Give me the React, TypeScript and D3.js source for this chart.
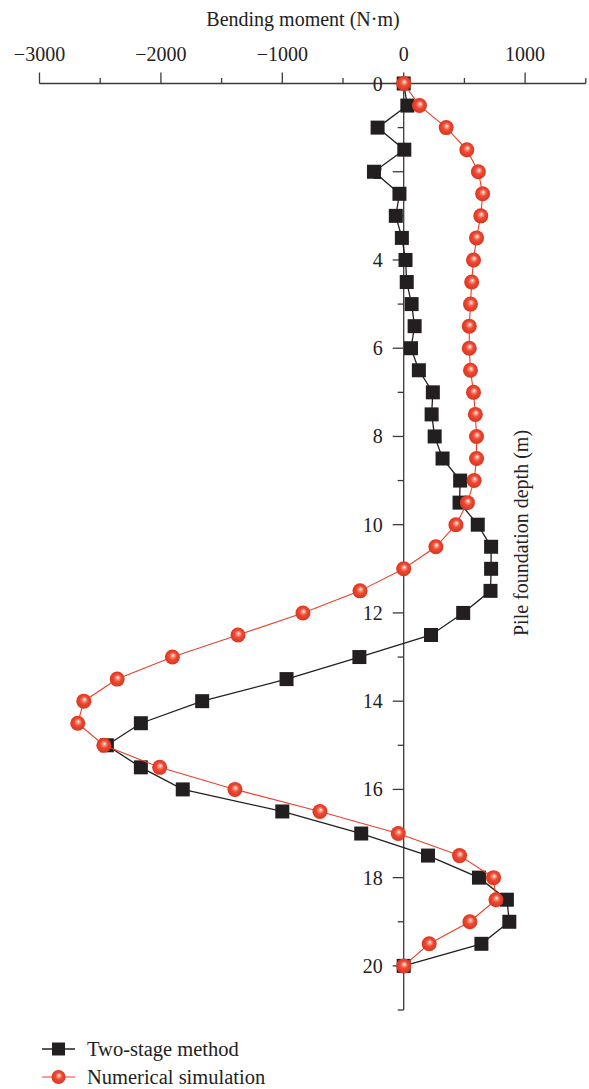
import React from "react";
import * as d3 from "d3";

const depths = [0, 0.5, 1, 1.5, 2, 2.5, 3, 3.5, 4, 4.5, 5, 5.5, 6, 6.5, 7, 7.5, 8, 8.5, 9, 9.5, 10, 10.5, 11, 11.5, 12, 12.5, 13, 13.5, 14, 14.5, 15, 15.5, 16, 16.5, 17, 17.5, 18, 18.5, 19, 19.5, 20];
const twoStage = [0, 30, -215, 5, -245, -35, -65, -15, 15, 25, 65, 90, 60, 125, 240, 230, 255, 320, 465, 460, 610, 720, 720, 715, 490, 225, -365, -965, -1660, -2165, -2445, -2165, -1820, -1000, -350, 200, 620, 850, 870, 640, 0];
const numerical = [0, 130, 350, 520, 615, 650, 635, 600, 575, 560, 550, 540, 540, 550, 575, 590, 600, 600, 580, 525, 430, 265, 0, -360, -830, -1365, -1905, -2360, -2635, -2685, -2470, -2010, -1390, -690, -45, 460, 740, 760, 545, 210, 0];

const xMajorTicks = [-3000, -2000, -1000, 0, 1000];
const xMinorTicks = [-2500, -1500, -500, 500, 1500];
const yMajorTicks = [0, 2, 4, 6, 8, 10, 12, 14, 16, 18, 20];
const yMinorTicks = [1, 3, 5, 7, 9, 11, 13, 15, 17, 19, 21];

const xTitle = "Bending moment (N\u00b7m)";
const yTitle = "Pile foundation depth (m)";
const seriesNames = ["Two-stage method", "Numerical simulation"];

const W = 589;
const H = 1089;
const FONT = "'Liberation Serif', 'Times New Roman', serif";
const RED = "#e8412b";
const BLACK = "#231f20";
const AXIS = "#3a3a3a";

export default function App() {
  const x = d3.scaleLinear().domain([-3000, 1500]).range([39.5, 585.8]);
  const y = d3.scaleLinear().domain([0, 21]).range([83.5, 1010]);
  const x0 = x(0);
  const yTop = y(0);

  const line = d3
    .line<number>()
    .x((d) => x(d))
    .y((_, i) => y(depths[i]));

  const sq = 14;
  const r = 7.5;

  const Circle = ({ cx, cy, rr }: { cx: number; cy: number; rr: number }) => (
    <circle cx={cx} cy={cy} r={rr} fill="url(#ballGrad)" />
  );

  return (
    <svg
      width={W}
      height={H}
      style={{ position: "absolute", left: 0, top: 0, background: "#fff" }}
      fontFamily={FONT}
    >
      <defs>
        <radialGradient id="ballGrad" cx="0.5" cy="0.5" r="0.55" fx="0.55" fy="0.38">
          <stop offset="0" stopColor="#ffffff" />
          <stop offset="0.18" stopColor="#f7a08f" />
          <stop offset="0.45" stopColor="#ee4a32" />
          <stop offset="1" stopColor="#d8301c" />
        </radialGradient>
      </defs>

      {/* X axis (top) */}
      <text x={303} y={26} fontSize={20} textAnchor="middle" fill="#222">
        {xTitle}
      </text>
      <line x1={x(-3000)} x2={x(1500)} y1={yTop} y2={yTop} stroke={AXIS} strokeWidth={1.3} />
      {xMajorTicks.map((t) => (
        <g key={"xM" + t}>
          <line x1={x(t)} x2={x(t)} y1={yTop} y2={yTop - 11} stroke={AXIS} strokeWidth={1.3} />
          <text x={x(t)} y={61} fontSize={20} textAnchor="middle" fill="#222">
            {t < 0 ? "\u2212" + Math.abs(t) : String(t)}
          </text>
        </g>
      ))}
      {xMinorTicks.map((t) => (
        <line key={"xm" + t} x1={x(t)} x2={x(t)} y1={yTop} y2={yTop - 5.5} stroke={AXIS} strokeWidth={1.3} />
      ))}

      {/* Y axis at x=0 */}
      <line x1={x0} x2={x0} y1={y(0)} y2={y(21)} stroke={AXIS} strokeWidth={1.3} />
      {yMajorTicks.map((t) => (
        <g key={"yM" + t}>
          <line x1={x0 - 11} x2={x0} y1={y(t)} y2={y(t)} stroke={AXIS} strokeWidth={1.3} />
          <text x={x0 - 21} y={y(t)} dy="0.35em" fontSize={20} textAnchor="end" fill="#222">
            {t}
          </text>
        </g>
      ))}
      {yMinorTicks.map((t) => (
        <line key={"ym" + t} x1={x0 - 6} x2={x0} y1={y(t)} y2={y(t)} stroke={AXIS} strokeWidth={1.3} />
      ))}
      <text
        transform={`translate(528, 533) rotate(-90)`}
        fontSize={20}
        textAnchor="middle"
        fill="#222"
      >
        {yTitle}
      </text>

      {/* Two-stage method */}
      <path d={line(twoStage) || ""} fill="none" stroke={BLACK} strokeWidth={1.3} />
      {twoStage.map((v, i) => (
        <rect key={"s" + i} x={x(v) - sq / 2} y={y(depths[i]) - sq / 2} width={sq} height={sq} fill={BLACK} />
      ))}

      {/* Numerical simulation */}
      <path d={line(numerical) || ""} fill="none" stroke={RED} strokeWidth={1.1} />
      {numerical.map((v, i) => (
        <Circle key={"c" + i} cx={x(v)} cy={y(depths[i])} rr={r} />
      ))}

      {/* Legend */}
      <g>
        <line x1={42} x2={75} y1={1049} y2={1049} stroke={BLACK} strokeWidth={1.3} />
        <rect x={58.5 - 6.5} y={1049 - 6.5} width={13} height={13} fill={BLACK} />
        <text x={87} y={1049} dy="0.35em" fontSize={20.5} fill="#222">
          {seriesNames[0]}
        </text>
        <line x1={42} x2={75} y1={1077} y2={1077} stroke={RED} strokeWidth={1.1} />
        <Circle cx={58.5} cy={1077} rr={7} />
        <text x={87} y={1077} dy="0.35em" fontSize={20.5} fill="#222">
          {seriesNames[1]}
        </text>
      </g>
    </svg>
  );
}
